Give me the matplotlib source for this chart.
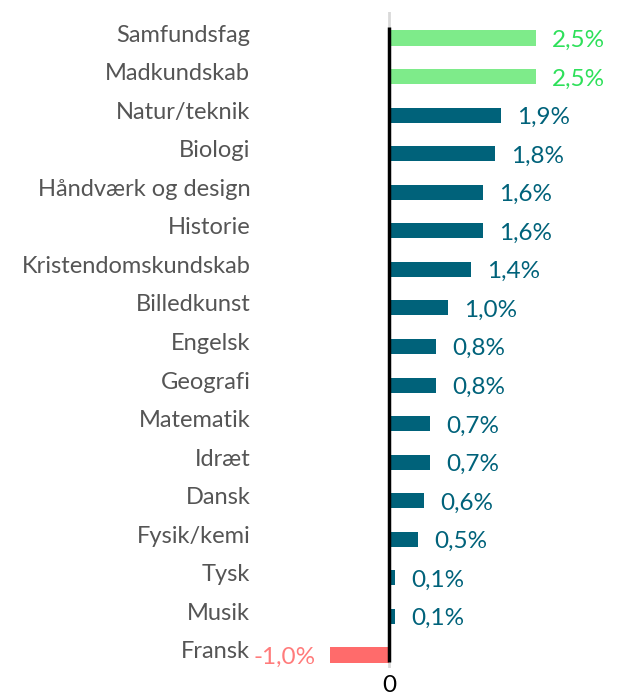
import matplotlib.pyplot as plt
import matplotlib.transforms as mtransforms

plt.rcParams['font.family'] = ['Lato', 'DejaVu Sans']

fag = ["Samfundsfag", "Madkundskab", "Natur/teknik", "Biologi",
       "Håndværk og design", "Historie", "Kristendomskundskab", "Billedkunst",
       "Engelsk", "Geografi", "Matematik", "Idræt", "Dansk", "Fysik/kemi",
       "Tysk", "Musik", "Fransk"]
aendring = [2.5, 2.5, 1.9, 1.8, 1.6, 1.6, 1.4, 1.0,
            0.8, 0.8, 0.7, 0.7, 0.6, 0.5, 0.1, 0.1, -1.0]
top_n = 2  # de to stoerste fremhaeves i groen

bar_green = "#7eeb8a"
txt_green = "#2ee05a"
teal = "#00627a"
bar_red = "#ff6b6b"
txt_red = "#ff7b7b"

fig = plt.figure(figsize=(6.22, 6.95), dpi=100)
ax = fig.add_axes([260 / 622, 1 - 668 / 695, 1 - 260 / 622, 656 / 695])

pos = list(range(len(fag)))
colors = []
tcolors = []
for i, v in enumerate(aendring):
    if v < 0:
        colors.append(bar_red)
        tcolors.append(txt_red)
    elif i < top_n:
        colors.append(bar_green)
        tcolors.append(txt_green)
    else:
        colors.append(teal)
        tcolors.append(teal)

ax.barh(pos, aendring, height=0.39, color=colors, zorder=2)

ax.set_xlim(-(389 - 260) / 58.8, (622 - 389) / 58.8)
ax.set_ylim(16 + 13 / 38.56, -26 / 38.56)

ax.axvline(0, color="#d9d9d9", lw=2, zorder=1)
ax.vlines(0, -11 / 38.56, 16 + 7 / 38.56, color="black", lw=2.5, zorder=3)

# værdier
px = 1 / 58.8
for p, v, c in zip(pos, aendring, tcolors):
    lab = f"{v:.1f}%".replace(".", ",")
    if v >= 0:
        ax.text(v + 16 * px, p + 0.06, lab, color=c, fontsize=17.5,
                ha="left", va="center")
    else:
        ax.text(v - 15 * px, p + 0.06, lab, color=c, fontsize=17.5,
                ha="right", va="center")

ax.set_yticks(pos)
ax.set_yticklabels(fag, fontsize=17, color="#555555")
ax.tick_params(axis="y", length=0, pad=7)
offset = mtransforms.ScaledTranslation(0, 5 / 100, fig.dpi_scale_trans)
for t in ax.get_yticklabels():
    t.set_transform(t.get_transform() + offset)

ax.set_xticks([0])
ax.set_xticklabels(["0"], fontsize=17.5, color="black")
ax.tick_params(axis="x", length=0, pad=5)

for s in ax.spines.values():
    s.set_visible(False)

fig.savefig("out.png", dpi=100)
